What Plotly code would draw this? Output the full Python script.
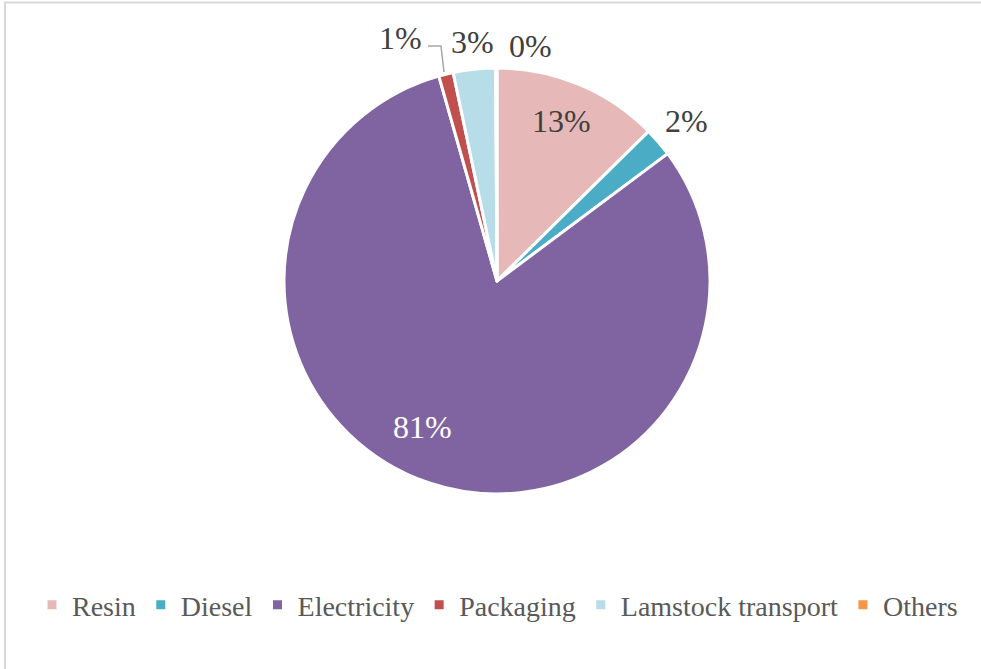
import plotly.graph_objects as go

# Share of emissions by source
categories = ["Resin", "Diesel", "Electricity", "Packaging", "Lamstock transport", "Others"]
shares = [12.6, 2.2, 80.8, 1.1, 3.2, 0.1]
colors = ["#E6B9B8", "#4BACC6", "#8064A2", "#C0504D", "#B7DEE8", "#F79646"]

W, H = 981, 669
cx, cy, r = 497, 281, 213
FONT = "Liberation Serif"
LABEL_COLOR = "#404040"

total = sum(shares)
pct = [f"{round(v / total * 100)}%" for v in shares]

fig = go.Figure(
    go.Pie(
        labels=categories,
        values=shares,
        sort=False,
        direction="clockwise",
        rotation=0,
        marker=dict(colors=colors, line=dict(color="white", width=3)),
        textinfo="none",
        hoverinfo="label+percent",
        domain=dict(x=[(cx - r) / W, (cx + r) / W], y=[1 - (cy + r) / H, 1 - (cy - r) / H]),
    )
)

# percentage labels: (slice, x px, y px, colour)
callouts = [
    (categories.index("Resin"), 561, 121, LABEL_COLOR),
    (categories.index("Diesel"), 686, 121, LABEL_COLOR),
    (categories.index("Electricity"), 422, 427, "white"),
    (categories.index("Packaging"), 400, 38, LABEL_COLOR),
    (categories.index("Lamstock transport"), 472, 42, LABEL_COLOR),
    (categories.index("Others"), 530, 46, LABEL_COLOR),
]
annotations = [
    dict(text=pct[i], x=px / W, y=1 - py / H, xref="paper", yref="paper",
         xanchor="center", yanchor="middle", showarrow=False,
         font=dict(size=32, family=FONT, color=col))
    for i, px, py, col in callouts
]

# leader line from the packaging label down to its slice
leader = dict(type="path", xref="paper", yref="paper",
              path=f"M {428 / W},{1 - 46 / H} L {441 / W},{1 - 46 / H} L {444 / W},{1 - 72 / H}",
              line=dict(color="#A6A6A6", width=1.5))

fig.update_layout(
    width=W,
    height=H,
    margin=dict(l=0, r=0, t=0, b=0, autoexpand=False),
    paper_bgcolor="white",
    plot_bgcolor="white",
    font=dict(family=FONT, color="#595959"),
    legend=dict(
        orientation="h",
        x=0.5 + 7 / W,
        xanchor="center",
        y=1 - 605 / H,
        yanchor="middle",
        font=dict(size=28, color="#595959", family=FONT),
        tracegroupgap=0,
    ),
    annotations=annotations,
    shapes=[
        dict(type="line", xref="paper", yref="paper", x0=4 / W, x1=1, y0=1 - 2.5 / H, y1=1 - 2.5 / H,
             line=dict(color="#D9D9D9", width=2)),
        dict(type="line", xref="paper", yref="paper", x0=5 / W, x1=5 / W, y0=0, y1=1 - 2 / H,
             line=dict(color="#D9D9D9", width=2)),
        leader,
    ],
)

fig.write_html("out.html")
